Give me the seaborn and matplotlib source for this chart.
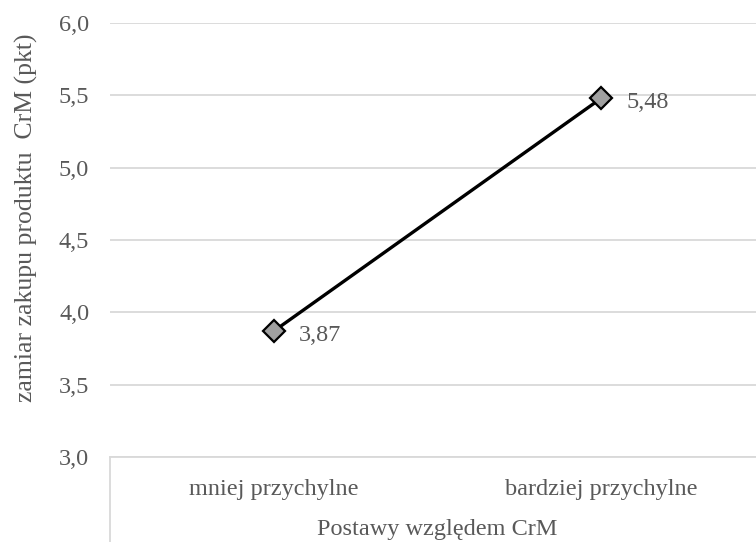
import matplotlib
matplotlib.use("Agg")
import matplotlib.pyplot as plt
import matplotlib.ticker as mticker
from matplotlib.lines import Line2D
import seaborn as sns
import pandas as pd

categories = ["mniej przychylne", "bardziej przychylne"]
values = [3.87, 5.48]
value_labels = ["3,87", "5,48"]
y_ticks = [3.0, 3.5, 4.0, 4.5, 5.0, 5.5, 6.0]
y_title = "zamiar zakupu produktu  CrM (pkt)"
x_title = "Postawy względem CrM"

sns.set_theme(style="white")
plt.rcParams["font.family"] = ["Liberation Serif", "DejaVu Serif"]

TEXT = "#595959"
GRID = "#d9d9d9"
FS = 17.5

df = pd.DataFrame({"postawa": categories, "zamiar": values})

W, H = 756, 542
fig = plt.figure(figsize=(W / 100, H / 100), dpi=100)
x0, x1, yb, yt = 110, 765, 457, 23
ax = fig.add_axes([x0 / W, 1 - yb / H, (x1 - x0) / W, (yb - yt) / H])

sns.lineplot(data=df, x="postawa", y="zamiar", ax=ax, color="black", lw=2.4,
             marker="D", markersize=11, markerfacecolor="#a0a0a0",
             markeredgecolor="black", markeredgewidth=1.6, zorder=5)

ax.set_xlim(-0.5, 1.5)
ax.set_ylim(3.0, 6.0)
ax.set_yticks(y_ticks)
ax.yaxis.set_major_formatter(mticker.FuncFormatter(lambda v, p: f"{v:.1f}".replace(".", ",")))
ax.grid(axis="y", color=GRID, lw=1.3)
ax.grid(axis="x", visible=False)
for s in ["top", "right", "left"]:
    ax.spines[s].set_visible(False)
ax.spines["bottom"].set_color(GRID)
ax.spines["bottom"].set_linewidth(1.3)
ax.tick_params(axis="y", length=0, pad=15, labelsize=FS, labelcolor=TEXT)
ax.tick_params(axis="x", length=0, pad=16, labelsize=FS, labelcolor=TEXT)
ax.set_xlabel("")
ax.set_ylabel("")

for i, (v, lab) in enumerate(zip(values, value_labels)):
    ax.annotate(lab, (i, v), xytext=(18, -3), textcoords="offset points",
                ha="left", va="center", fontsize=FS, color=TEXT)

# category-axis box edge below the plot
fig.add_artist(Line2D([x0 / W, x0 / W], [0, 1 - yb / H], color=GRID, lw=1.3))

fig.text((x0 + x1) / 2 / W, 1 - 530 / H, x_title, ha="center", va="center",
         fontsize=FS, color=TEXT)
fig.text(26 / W, 1 - 218 / H, y_title, rotation=90, ha="center", va="center",
         fontsize=18.5, color=TEXT)

fig.savefig("out.png", dpi=100)
